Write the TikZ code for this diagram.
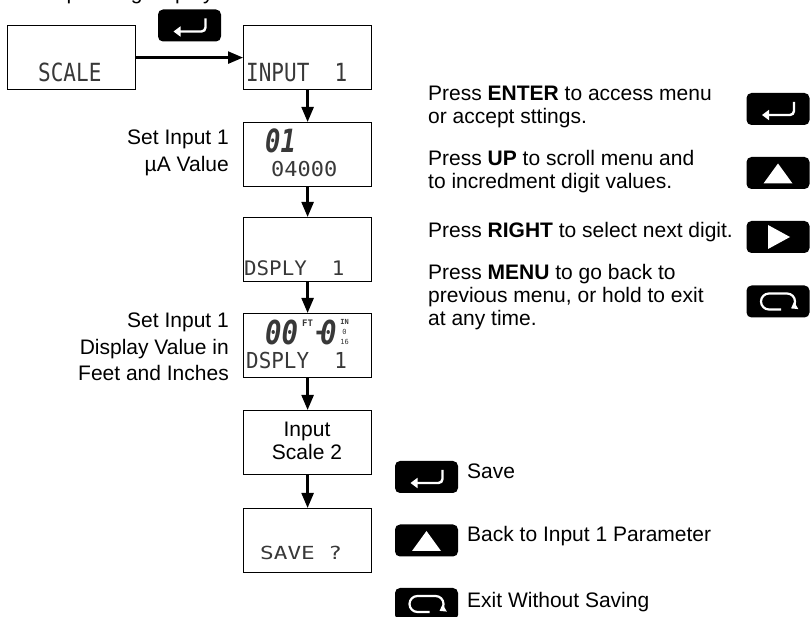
\documentclass[tikz,border=0pt]{standalone}
\usepackage{fontspec}
\setmainfont{Liberation Sans}
\newfontfamily\lcdfont{DejaVu Sans Mono}
\usetikzlibrary{arrows.meta}
\definecolor{lcdgray}{gray}{0.22}
\newcommand{\lcd}[3]{{\lcdfont\fontsize{#1}{#1}\selectfont\scalebox{#2}[1]{#3}}}
\newcommand{\lcdb}[3]{{\lcdfont\bfseries\fontsize{#1}{#1}\selectfont\scalebox{#2}[1]{#3}}}
\newcommand{\lcdbi}[3]{{\lcdfont\bfseries\itshape\fontsize{#1}{#1}\selectfont\scalebox{#2}[1]{#3}}}
\begin{document}
\begin{tikzpicture}[x=1pt,y=-1pt,
  lcdbox/.style={draw, line width=1.2pt, minimum width=128pt, minimum height=64pt, inner sep=0, anchor=north west},
  flow/.style={line width=2.4pt, -{Triangle[length=15pt,width=12pt]}},
  keybox/.style={fill=black, rounded corners=5pt, minimum width=63pt, minimum height=32pt, inner sep=0},
  lcdtxt/.style={inner sep=0, anchor=base west, text=lcdgray},
  txt/.style={inner sep=0, font=\fontsize{21}{23}\selectfont},
  sym/.style={white, line width=2.4pt},
  enterkey/.pic={\node[keybox] (-k) {};
    \draw[sym, rounded corners=4pt, -{Triangle[length=7pt,width=10pt]}] (16,-7) -- (16,6) -- (-16,6);},
  upkey/.pic={\node[keybox] (-k) {};
    \fill[white] (-14.5,10.5) -- (14.5,10.5) -- (0,-9.5) -- cycle;},
  rightkey/.pic={\node[keybox] (-k) {};
    \fill[white] (-10,-12) -- (12,0) -- (-10,12) -- cycle;},
  menukey/.pic={\node[keybox] (-k) {};
    \draw[sym, line width=2.2pt, -{Triangle[length=6pt,width=8pt]}] (3,8) -- (-9,8) arc[start angle=90,end angle=270,radius=8] -- (9,-8) arc[start angle=-90,end angle=60,radius=8];}
]
\useasboundingbox (0,0) rectangle (812,617);

% clipped heading
\node[txt, anchor=base east] (top) at (214,-0.5) {From operating display};

% display boxes
\node[lcdbox] (s)  at (7,25) {};
\node[lcdbox] (i1) at (243,25) {};
\node[lcdbox] (b2) at (243,122) {};
\node[lcdbox] (b3) at (243,217) {};
\node[lcdbox] (b4) at (243,313) {};
\node[lcdbox] (b5) at (243,410) {};
\node[lcdbox] (b6) at (243,508) {};

% connectors
\draw[flow] (s.east) -- (i1.west);
\draw[flow] (i1.south) -- (b2.north);
\draw[flow] (b2.south) -- (b3.north);
\draw[flow] (b3.south) -- (b4.north);
\draw[flow] (b4.south) -- (b5.north);
\draw[flow] (b5.south) -- (b6.north);

% LCD texts
\node[lcdtxt] (t1)  at (38,82)   {\lcd{25}{0.84}{SCALE}};
\node[lcdtxt] (t2)  at (246,82)  {\lcd{25}{0.84}{INPUT~~1}};
\node[lcdtxt] (t3)  at (265,153) {\lcdbi{32}{0.8}{01}};
\node[lcdtxt] (t4)  at (271,177) {\lcd{20.5}{1.07}{04000}};
\node[lcdtxt] (t5)  at (244,276) {\lcd{20}{1.04}{DSPLY~~1}};
\node[lcdtxt] (t6)  at (265,345) {\lcdbi{33}{0.83}{00}};
\node[lcdtxt] (t7)  at (302,327) {\lcdb{9}{1}{FT}};
\node[lcdtxt] (t8)  at (313,341) {\lcdb{26}{0.9}{-}};
\node[lcdtxt] (t9)  at (320,345) {\lcdbi{33}{0.83}{0}};
\node[inner sep=0, anchor=north, text=lcdgray, align=center,
      font=\lcdfont\fontsize{7}{10}\selectfont] (t10) at (344.5,319.5) {\textbf{IN}\\0\\16};
\node[lcdtxt] (t13) at (246,369) {\lcd{22}{0.95}{DSPLY~~1}};
\node[lcdtxt] (t14) at (260,560) {\lcd{18}{1.26}{SAVE~?}};

% box 5 text
\node[txt, anchor=base] (b5a) at (307,437) {Input};
\node[txt, anchor=base] (b5b) at (307,460) {Scale 2};

% left labels
\node[txt, anchor=base east] (l1a) at (229,145) {Set Input 1};
\node[txt, anchor=base east] (l1b) at (229,172) {µA Value};
\node[txt, anchor=base east] (l2a) at (229,328) {Set Input 1};
\node[txt, anchor=base east] (l2b) at (229,355) {Display Value in};
\node[txt, anchor=base east] (l2c) at (229,381) {Feet and Inches};

% keys
\pic (kt) at (189.5,25.5) {enterkey};
\pic (ke) at (778,109) {enterkey};
\pic (ku) at (778,173) {upkey};
\pic (kr) at (778,237) {rightkey};
\pic (km) at (778,301.5) {menukey};
\pic (bs) at (426.5,477) {enterkey};
\pic (bu) at (426.5,540.5) {upkey};
\pic (bm) at (426.5,604) {menukey};

% right instructions
\node[txt, anchor=base west] (r1a) at (428,101) {Press \textbf{ENTER} to access menu};
\node[txt, anchor=base west] (r1b) at (428,124) {or accept sttings.};
\node[txt, anchor=base west] (r2a) at (428,166) {Press \textbf{UP} to scroll menu and};
\node[txt, anchor=base west] (r2b) at (428,189) {to incredment digit values.};
\node[txt, anchor=base west] (r3)  at (428,238) {Press \textbf{RIGHT} to select next digit.};
\node[txt, anchor=base west] (r4a) at (428,280) {Press \textbf{MENU} to go back to};
\node[txt, anchor=base west] (r4b) at (428,303) {previous menu, or hold to exit};
\node[txt, anchor=base west] (r4c) at (428,326) {at any time.};

% bottom legend
\node[txt, anchor=base west] (sv) at (467,479) {Save};
\node[txt, anchor=base west] (bk) at (467,542) {Back to Input 1 Parameter};
\node[txt, anchor=base west] (ex) at (467,607) {Exit Without Saving};
\end{tikzpicture}
\end{document}
